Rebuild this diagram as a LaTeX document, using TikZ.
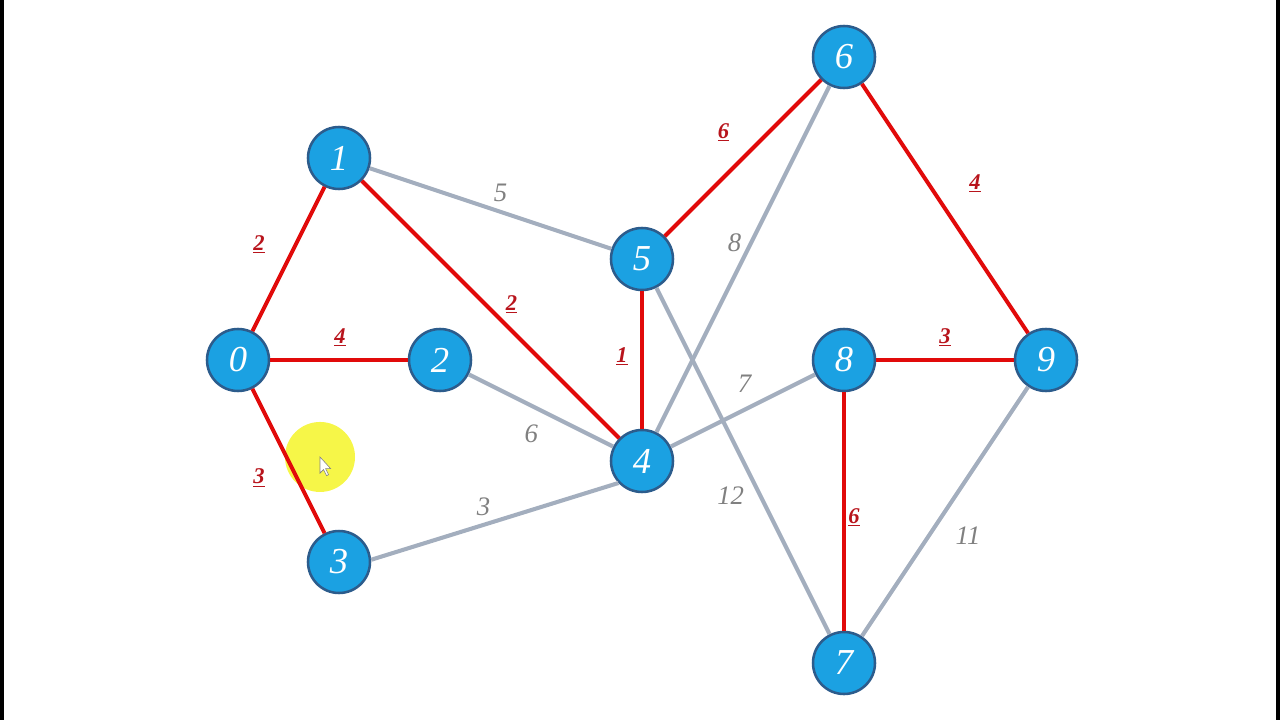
\documentclass[tikz,border=0pt]{standalone}
\usepackage{fontspec}
\setmainfont{Liberation Serif}
\usetikzlibrary{positioning}
\definecolor{nodeblue}{HTML}{1BA1E2}
\definecolor{nodeline}{HTML}{2C5C8C}
\definecolor{treered}{HTML}{E10A0A}
\definecolor{labelred}{HTML}{B8141C}
\definecolor{restgray}{HTML}{A3AEBE}
\definecolor{labelgray}{HTML}{808080}
\definecolor{pointer}{HTML}{F6F648}
\tikzstyle{vertex}=[circle,fill=nodeblue,draw=nodeline,line width=1.8pt,minimum size=1.55cm,inner sep=0pt,text=white,font=\fontsize{26}{30}\selectfont\itshape]
\tikzstyle{treeedge} = [draw,treered,line width=2.8pt]
\tikzstyle{restedge} = [draw,restgray,line width=2.9pt]
\tikzstyle{treeweight} = [text=labelred,font=\fontsize{16}{18}\selectfont\bfseries\itshape,inner sep=1pt]
\tikzstyle{restweight} = [text=labelgray,font=\fontsize{19}{22}\selectfont\itshape,inner sep=1pt]

\begin{document}
\begin{tikzpicture}[x=2.525cm,y=2.525cm]

    % frame of the screen shot
    \useasboundingbox (-2.3564,-3.5644) rectangle (10.3168,3.5644);
    \fill[black] (-2.3564,-3.5644) rectangle (-2.3168,3.5644);
    \fill[black] (10.2772,-3.5644) rectangle (10.3168,3.5644);

    % pointer highlight
    \fill[pointer] (0.812,-0.96) circle (0.875cm);
    \draw[gray,fill=white,line width=0.4pt] (0.812,-0.96) -- ++(0,-0.16) -- ++(0.035,0.035) -- ++(0.03,-0.06) -- ++(0.02,0.01) -- ++(-0.03,0.06) -- ++(0.05,0) -- cycle;

    % First we draw the vertices
    \foreach \pos/\name/\label in {{(0,0)/n0/0}, {(1,2)/n1/1}, {(2,0)/n2/2}, {(1,-2)/n3/3}, {(4,-1)/n4/4}, {(4,1)/n5/5}, {(6,3)/n6/6}, {(6,-3)/n7/7}, {(6,0)/n8/8}, {(8,0)/n9/9}}
        \node[vertex] (\name) at \pos {\label};

    % Edges left out of the tree
  \foreach \source/ \dest /\weight/\sx/\sy in {n1/n5/5/0.25/0.4, n2/n4/6/-0.24/-0.59, n3.4/n4.223/3/-0.28/0.37, n4/n6/8/-0.21/0.4, n4/n8/7/0.04/0.66, n5/n7/12/-0.31/-0.875, n9/n7/11/0.575/-0.6}
          \path[restedge] (\source) -- node[restweight, xshift=\sx cm, yshift=\sy cm] {\weight} (\dest);

    % Edges of the spanning tree
  \foreach \source/ \dest /\weight/\sx/\sy in {n0/n1/2/-0.74/0.36, n0/n2/4/0.025/0.56, n0/n3/3/-0.74/-0.42, n1/n4/2/0.525/0.12, n4/n5/1/-0.5/0.09, n5/n6/6/-0.49/0.64, n6/n9/4/0.75/0.62, n8/n9/3/0/0.56, n8/n7/6/0.25/-0.14}
          \path[treeedge] (\source) -- node[treeweight, xshift=\sx cm, yshift=\sy cm] {\underline{\weight}} (\dest);

   \end{tikzpicture}
\end{document}
